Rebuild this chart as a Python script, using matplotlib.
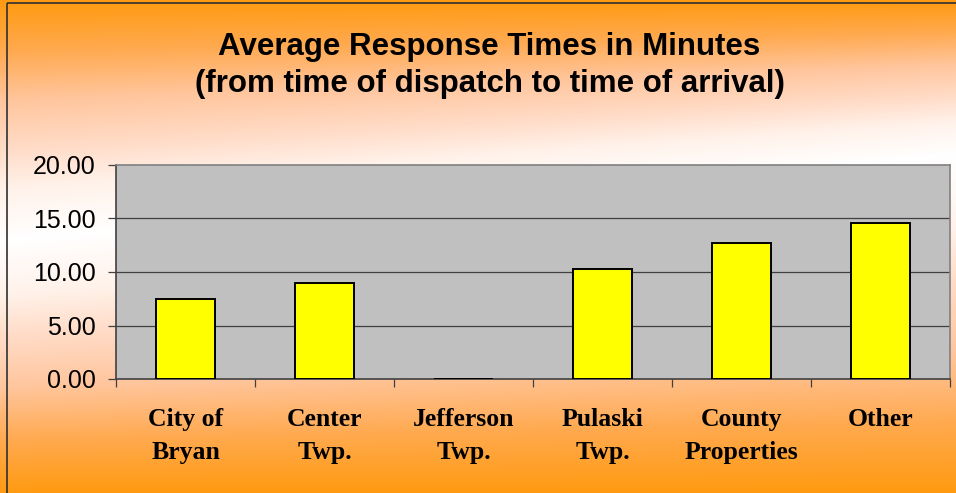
import numpy as np
import matplotlib.pyplot as plt
from matplotlib.colors import LinearSegmentedColormap
from matplotlib.patches import Rectangle

# data
categories = ["City of\nBryan", "Center\nTwp.", "Jefferson\nTwp.", "Pulaski\nTwp.",
              "County\nProperties", "Other"]
minutes = [7.48, 9.00, 0.00, 10.28, 12.74, 14.60]
yticks = [0, 5, 10, 15, 20]

W, H = 956, 493
fig = plt.figure(figsize=(W / 100, H / 100), dpi=100)

# background: orange at top and bottom, white band (slightly tilted) in the middle
bg = fig.add_axes([0, 0, 1, 1])
bg.set_axis_off()
xx, yy = np.meshgrid(np.arange(W), np.arange(H))
yw = 240 - 0.09 * xx
d = np.where(yy < yw, (yw - yy) / yw, (yy - yw) / (H - yw))
cmap = LinearSegmentedColormap.from_list(
    "bg",
    [(0.0, "#FFFFFF"), (0.21, "#FFF2EA"), (0.375, "#FFDCC8"), (0.58, "#FFC69E"),
     (0.79, "#FFAA50"), (1.0, "#FF9A10")])
bg.imshow(d, cmap=cmap, vmin=0, vmax=1, aspect="auto", extent=[0, W, H, 0])
bg.add_patch(Rectangle((7, 3), W, H, fill=False, edgecolor="#303030", lw=1.2))
bg.set_xlim(0, W)
bg.set_ylim(H, 0)

fig.text(0.512, 1 - 47 / H, "Average Response Times in Minutes", ha="center", va="center",
         fontsize=22.5, fontweight="bold", family="Liberation Sans")
fig.text(0.512, 1 - 84 / H, "(from time of dispatch to time of arrival)", ha="center",
         va="center", fontsize=22.5, fontweight="bold", family="Liberation Sans")

ax = fig.add_axes([116 / W, 1 - 379 / H, 834 / W, 214 / H])
ax.set_facecolor("#C0C0C0")
x = np.arange(len(categories))
ax.bar(x, minutes, width=0.42, color="#FFFF00", edgecolor="black", linewidth=1.4, zorder=3)

ax.set_xlim(-0.5, len(categories) - 0.5)
ax.set_ylim(0, 20)
ax.set_yticks(yticks, [f"{v:.2f}" for v in yticks])
for v in yticks[1:-1]:
    ax.axhline(v, color="#404040", lw=0.9, zorder=1)

ax.set_xticks(x, categories)
ax.set_xticks(np.arange(len(categories) + 1) - 0.5, minor=True)
ax.tick_params(axis="x", which="major", length=0, pad=21)
ax.tick_params(axis="x", which="minor", length=5.5, width=0.9, color="#404040", direction="out")
ax.tick_params(axis="y", length=5.5, width=0.9, color="#404040", pad=9,
               labelsize=18)
for lab in ax.get_xticklabels():
    lab.set_family("Liberation Serif")
    lab.set_fontweight("bold")
    lab.set_fontsize(18.5)
    lab.set_linespacing(1.55)
    lab.set_va("top")
for lab in ax.get_yticklabels():
    lab.set_family("Liberation Sans")

ax.spines["left"].set_color("#404040")
ax.spines["bottom"].set_color("#404040")
ax.spines["top"].set_color("#808080")
ax.spines["right"].set_color("#808080")
for s in ax.spines.values():
    s.set_linewidth(1.2)

fig.savefig("out.png", dpi=100)
